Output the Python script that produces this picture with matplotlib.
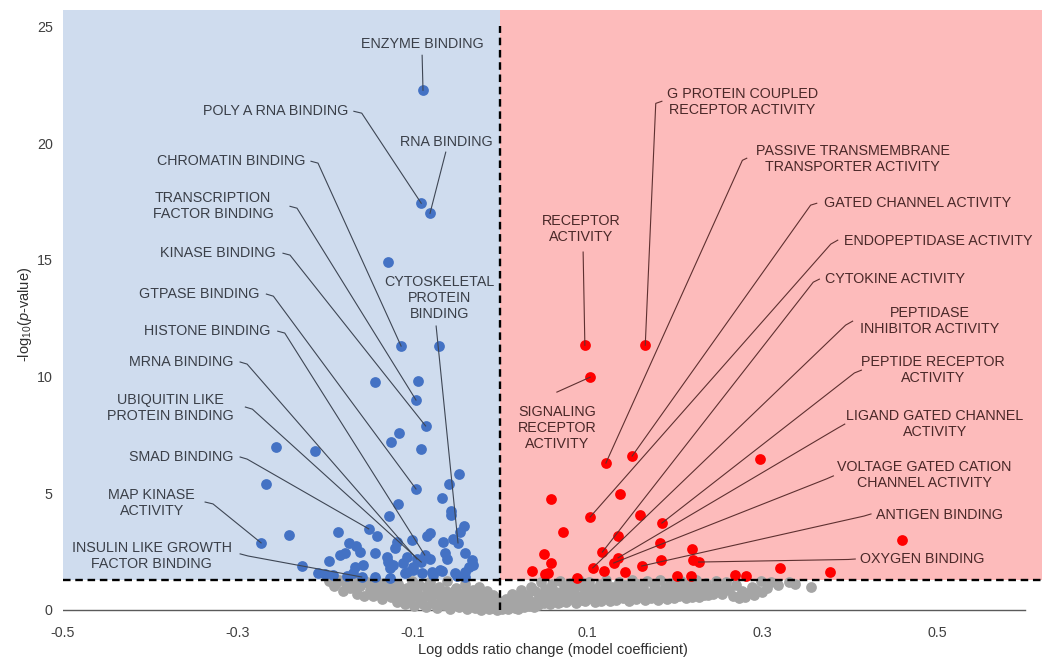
import matplotlib.pyplot as plt
from matplotlib.patches import Rectangle

plt.rcParams['font.family'] = ['Liberation Sans', 'DejaVu Sans']
plt.rcParams['mathtext.fontset'] = 'custom'
plt.rcParams['mathtext.rm'] = 'Liberation Sans'
plt.rcParams['mathtext.it'] = 'Liberation Sans:italic'
plt.rcParams['axes.unicode_minus'] = False

# GO terms enriched among depleted (negative coefficient) genes, labelled
blue_terms = ['ENZYME BINDING', 'POLY A RNA BINDING', 'RNA BINDING', 'CHROMATIN BINDING',
              'TRANSCRIPTION\nFACTOR BINDING', 'KINASE BINDING', 'GTPASE BINDING',
              'HISTONE BINDING', 'MRNA BINDING', 'UBIQUITIN LIKE\nPROTEIN BINDING',
              'SMAD BINDING', 'MAP KINASE\nACTIVITY', 'INSULIN LIKE GROWTH\nFACTOR BINDING',
              'CYTOSKELETAL\nPROTEIN\nBINDING']
blue_term_coef = [-0.088, -0.090, -0.080, -0.113, -0.096, -0.085, -0.096,
                  -0.086, -0.095, -0.090, -0.150, -0.273, -0.158, -0.048]
blue_term_logp = [22.26, 17.42, 16.99, 11.30, 8.99, 7.88, 5.18,
                  2.35, 2.18, 2.05, 3.47, 2.87, 1.41, 2.87]

# other significant negative terms
blue_coef = [-0.128, -0.070, -0.143, -0.094, -0.115, -0.125, -0.090, -0.256, -0.211, -0.267,
             -0.047, -0.058, -0.066, -0.117, -0.056, -0.056, -0.127, -0.041, -0.046, -0.083,
             -0.080, -0.141, -0.185, -0.241, -0.118, -0.101, -0.065, -0.054, -0.173, -0.165,
             -0.160, -0.143, -0.183, -0.177, -0.120, -0.129, -0.128, -0.063, -0.061, -0.080,
             -0.106, -0.195, -0.226, -0.166, -0.157, -0.122, -0.111, -0.032, -0.035, -0.040,
             -0.208, -0.200, -0.191, -0.175, -0.168, -0.143, -0.126, -0.109, -0.099, -0.089,
             -0.078, -0.066, -0.051, -0.040, -0.040, -0.031, -0.126, -0.099, -0.106, -0.069,
             -0.077, -0.049]
blue_logp = [14.90, 11.30, 9.76, 9.80, 7.58, 7.19, 6.89, 6.98, 6.81, 5.39,
             5.82, 5.39, 4.79, 4.54, 4.24, 4.07, 4.02, 3.60, 3.34, 3.17,
             3.30, 3.17, 3.34, 3.21, 2.91, 3.00, 2.91, 3.04, 2.87, 2.74,
             2.48, 2.44, 2.35, 2.44, 2.65, 2.27, 2.05, 2.44, 2.18, 2.18,
             2.27, 2.10, 1.88, 1.84, 1.93, 1.93, 2.01, 2.14, 1.84, 1.63,
             1.58, 1.54, 1.50, 1.46, 1.58, 1.41, 1.37, 1.58, 1.71, 1.58,
             1.63, 1.67, 1.58, 1.41, 2.44, 1.93, 1.80, 1.84, 1.63, 1.71,
             1.50, 1.46]

# GO terms enriched among positive coefficient genes, labelled
red_terms = ['RECEPTOR\nACTIVITY', 'G PROTEIN COUPLED\nRECEPTOR ACTIVITY',
             'SIGNALING\nRECEPTOR\nACTIVITY', 'PASSIVE TRANSMEMBRANE\nTRANSPORTER ACTIVITY',
             'GATED CHANNEL ACTIVITY', 'ENDOPEPTIDASE ACTIVITY', 'CYTOKINE ACTIVITY',
             'PEPTIDASE\nINHIBITOR ACTIVITY', 'PEPTIDE RECEPTOR\nACTIVITY',
             'LIGAND GATED CHANNEL\nACTIVITY', 'VOLTAGE GATED CATION\nCHANNEL ACTIVITY',
             'ANTIGEN BINDING', 'OXYGEN BINDING']
red_term_coef = [0.097, 0.166, 0.103, 0.121, 0.151, 0.103, 0.117,
                 0.106, 0.185, 0.135, 0.130, 0.162, 0.227]
red_term_logp = [11.34, 11.34, 9.97, 6.29, 6.59, 3.98, 2.48,
                 1.80, 3.72, 2.23, 2.01, 1.88, 2.05]

red_coef = [0.297, 0.058, 0.137, 0.160, 0.072, 0.135, 0.183, 0.219, 0.050, 0.058,
            0.184, 0.221, 0.119, 0.143, 0.037, 0.051, 0.055, 0.088, 0.202, 0.218,
            0.269, 0.281, 0.320, 0.377, 0.459]
red_logp = [6.46, 4.75, 4.97, 4.07, 3.34, 3.17, 2.87, 2.61, 2.40, 2.01,
            2.14, 2.14, 1.67, 1.63, 1.67, 1.54, 1.58, 1.37, 1.46, 1.46,
            1.50, 1.46, 1.80, 1.63, 3.00]

# non-significant terms
gray_coef = [-0.196, -0.190, -0.184, -0.180, -0.176, -0.171, -0.167, -0.163, -0.160, -0.156,
             -0.152, -0.149, -0.145, -0.142, -0.138, -0.135, -0.132, -0.128, -0.125, -0.122,
             -0.118, -0.116, -0.113, -0.109, -0.106, -0.103, -0.100, -0.098, -0.095, -0.092,
             -0.090, -0.087, -0.084, -0.082, -0.080, -0.078, -0.075, -0.072, -0.070, -0.067,
             -0.064, -0.062, -0.060, -0.057, -0.055, -0.052, -0.050, -0.047, -0.045, -0.042,
             -0.040, -0.038, -0.036, -0.034, -0.031, -0.029, -0.027, -0.024, -0.022, -0.020,
             -0.018, -0.015, -0.013, -0.011, -0.008, -0.006, -0.003, -0.001,
             -0.188, -0.173, -0.165, -0.158, -0.147, -0.140, -0.133, -0.127, -0.120, -0.114,
             -0.111, -0.104, -0.097, -0.093, -0.088, -0.085, -0.079, -0.073, -0.068, -0.065,
             -0.058, -0.053, -0.049, -0.044, -0.039, -0.033, -0.028, -0.023, -0.017, -0.012,
             -0.009, -0.004,
             0.002, 0.004, 0.007, 0.009, 0.012, 0.014, 0.017, 0.019, 0.022, 0.024,
             0.027, 0.029, 0.031, 0.033, 0.036, 0.038, 0.040, 0.043, 0.045, 0.047,
             0.050, 0.052, 0.055, 0.057, 0.059, 0.062, 0.064, 0.066, 0.069, 0.071,
             0.073, 0.076, 0.078, 0.080, 0.083, 0.085, 0.087, 0.090, 0.092, 0.095,
             0.097, 0.099, 0.102, 0.104, 0.107, 0.109, 0.111, 0.114, 0.116, 0.119,
             0.121, 0.124, 0.126, 0.128, 0.131, 0.133, 0.136, 0.138, 0.141, 0.143,
             0.146, 0.148, 0.151, 0.153, 0.156, 0.158, 0.161, 0.163, 0.166, 0.168,
             0.171, 0.173, 0.176, 0.178, 0.181, 0.183, 0.186, 0.189, 0.191, 0.194,
             0.197, 0.199, 0.202, 0.205, 0.207, 0.210, 0.213, 0.215, 0.218, 0.221,
             0.224, 0.227, 0.230, 0.233, 0.236, 0.240, 0.243, 0.247, 0.250, 0.254,
             0.258, 0.262, 0.266, 0.270, 0.273, 0.277, 0.280, 0.284, 0.288, 0.293,
             0.298, 0.305, 0.310, 0.318, 0.330, 0.337, 0.355,
             0.005, 0.011, 0.016, 0.021, 0.026, 0.032, 0.039, 0.044, 0.049, 0.054,
             0.058, 0.063, 0.068, 0.074, 0.079, 0.084, 0.089, 0.094, 0.100, 0.106,
             0.113, 0.118, 0.123, 0.130, 0.135, 0.142, 0.149, 0.155, 0.160, 0.167,
             0.175, 0.182, 0.188, 0.195, 0.203, 0.212, 0.220, 0.229, 0.238, 0.245,
             0.256, 0.275, 0.290, 0.300]
gray_logp = [1.22, 1.02, 1.28, 0.80, 1.10, 0.92, 1.25, 0.70, 1.02, 0.58,
             1.18, 0.85, 0.60, 1.28, 1.00, 0.45, 0.75, 1.20, 0.55, 0.90,
             0.35, 1.10, 0.68, 0.25, 0.95, 0.50, 1.25, 0.18, 0.75, 1.05,
             0.38, 0.60, 0.12, 0.88, 1.20, 0.30, 0.68, 0.08, 1.00, 0.45,
             0.20, 0.82, 1.25, 0.05, 0.55, 0.30, 0.95, 0.12, 0.70, 0.40,
             1.10, 0.02, 0.25, 0.60, 0.85, 0.10, 0.40, 1.00, 0.00, 0.60,
             0.20, 0.80, 0.05, 0.40, 0.65, 0.15, 0.00, 0.35,
             1.15, 1.25, 0.88, 1.15, 1.05, 0.70, 1.15, 0.85, 0.60, 0.95,
             0.42, 0.75, 1.10, 0.50, 0.25, 1.00, 0.55, 0.85, 0.25, 0.65,
             0.42, 0.80, 0.20, 0.55, 0.85, 0.35, 0.70, 0.20, 0.45, 0.25,
             0.10, 0.50,
             0.02, 0.20, 0.45, 0.05, 0.30, 0.70, 0.10, 0.50, 0.22, 0.85,
             0.12, 0.40, 0.65, 0.18, 1.00, 0.35, 0.80, 0.20, 0.55, 1.20,
             0.30, 0.90, 0.60, 0.25, 1.10, 0.40, 0.78, 0.28, 1.25, 0.55,
             0.95, 0.32, 0.70, 1.15, 0.45, 0.90, 0.30, 1.28, 0.60, 1.00,
             0.38, 0.80, 1.20, 0.50, 0.90, 0.35, 0.70, 1.10, 0.40, 0.85,
             1.28, 0.55, 0.38, 1.00, 0.70, 0.42, 1.20, 0.88, 0.50, 1.05,
             0.65, 0.40, 1.28, 0.80, 0.45, 1.10, 0.60, 0.95, 0.42, 1.22,
             0.72, 0.50, 1.05, 0.85, 0.44, 1.28, 0.62, 0.95, 0.48, 1.15,
             0.75, 0.50, 1.05, 0.60, 1.25, 0.85, 0.50, 1.10, 0.70, 0.95,
             1.28, 0.55, 0.80, 0.62, 1.15, 0.90, 0.70, 1.22, 0.95, 0.70,
             1.20, 0.85, 0.60, 1.05, 0.52, 0.80, 0.55, 0.72, 1.00, 0.85,
             1.25, 0.95, 1.20, 1.05, 1.20, 1.12, 1.00,
             0.35, 0.15, 0.40, 0.05, 0.60, 0.45, 0.12, 0.35, 0.70, 0.40,
             0.95, 0.55, 0.35, 0.60, 0.45, 1.20, 0.55, 0.42, 0.60, 0.45,
             0.55, 1.05, 0.80, 0.55, 0.75, 0.65, 1.00, 0.60, 0.80, 0.55,
             0.65, 0.80, 0.55, 0.65, 0.80, 0.65, 0.55, 1.05, 0.65, 0.95,
             0.85, 0.65, 0.62, 0.75]

x_ticks = [-0.5, -0.3, -0.1, 0.1, 0.3, 0.5]
y_ticks = [0, 5, 10, 15, 20, 25]
sig_cut = 1.3

# label placement: text anchor, alignment, leader-line start points
blue_layout = [((-0.089, 24.23), 'center', [(-0.089, 23.76)]),
               ((-0.173, 21.36), 'right', [(-0.167, 21.36), (-0.158, 21.28)]),
               ((-0.061, 20.03), 'center', [(-0.062, 19.61)]),
               ((-0.222, 19.22), 'right', [(-0.216, 19.22), (-0.208, 19.14)]),
               ((-0.328, 17.29), 'center', [(-0.240, 17.29), (-0.232, 17.21)]),
               ((-0.256, 15.28), 'right', [(-0.248, 15.28), (-0.240, 15.20)]),
               ((-0.275, 13.53), 'right', [(-0.267, 13.53), (-0.259, 13.44)]),
               ((-0.262, 11.94), 'right', [(-0.254, 11.94), (-0.246, 11.86)]),
               ((-0.305, 10.62), 'right', [(-0.297, 10.62), (-0.289, 10.53)]),
               ((-0.377, 8.65), 'center', [(-0.291, 8.69), (-0.283, 8.60)]),
               ((-0.305, 6.55), 'right', [(-0.297, 6.55), (-0.289, 6.46)]),
               ((-0.398, 4.58), 'center', [(-0.337, 4.62), (-0.328, 4.54)]),
               ((-0.398, 2.31), 'center', [(-0.297, 2.40), (-0.288, 2.31)]),
               ((-0.069, 13.36), 'center', [(-0.073, 12.16)])]
red_layout = [((0.093, 16.31), 'center', [(0.095, 15.33)]),
              ((0.277, 21.77), 'center', [(0.185, 21.79), (0.178, 21.70)]),
              ((0.065, 7.79), 'center', [(0.065, 9.33)]),
              ((0.403, 19.31), 'center', [(0.282, 19.35), (0.277, 19.26)]),
              ((0.370, 17.42), 'left', [(0.362, 17.42), (0.355, 17.34)]),
              ((0.393, 15.80), 'left', [(0.386, 15.84), (0.378, 15.67)]),
              ((0.371, 14.17), 'left', [(0.365, 14.17), (0.358, 14.04)]),
              ((0.491, 12.37), 'center', [(0.403, 12.37), (0.395, 12.20)]),
              ((0.495, 10.27), 'center', [(0.413, 10.27), (0.405, 10.15)]),
              ((0.497, 7.96), 'center', [(0.394, 7.96), (0.386, 7.79)]),
              ((0.485, 5.78), 'center', [(0.381, 5.74), (0.373, 5.61)]),
              ((0.430, 4.07), 'left', [(0.424, 4.11), (0.416, 4.02)]),
              ((0.411, 2.18), 'left', [(0.406, 2.18), (0.398, 2.16)])]

fig = plt.figure(figsize=(10.47, 6.6), dpi=100)
ax = fig.add_axes([62.5 / 1047, 1 - 619 / 660, 980 / 1047, 609 / 660])
xmin, xmax = -0.5, 0.62
ymin, ymax = -0.39, 25.7
ax.set_xlim(xmin, xmax)
ax.set_ylim(ymin, ymax)

# shaded significance quadrants
ax.add_patch(Rectangle((xmin, sig_cut), 0 - xmin, ymax - sig_cut, color='#CFDCEE', lw=0, zorder=0))
ax.add_patch(Rectangle((0, sig_cut), xmax, ymax - sig_cut, color='#FDBBBB', lw=0, zorder=0))

ms = 60
ax.scatter(gray_coef, gray_logp, s=ms, color='#A5A5A5', lw=0, zorder=2, clip_on=False)
ax.scatter(blue_coef + blue_term_coef, blue_logp + blue_term_logp, s=ms, color='#4472C4', lw=0, zorder=3)
ax.scatter(red_coef + red_term_coef, red_logp + red_term_logp, s=ms, color='#FF0000', lw=0, zorder=3)

# threshold lines and x axis
ax.plot([xmin, xmax], [sig_cut, sig_cut], color='black', lw=1.7, dashes=(3.2, 2.0), zorder=4)
ax.plot([0, 0], [0, 25], color='black', lw=1.7, dashes=(3.2, 2.0), zorder=4)
ax.plot([-0.5, 0.6], [0, 0], color='#5A5A5A', lw=1.0, zorder=1)


def add_labels(terms, xs, ys, layout, txt_color, line_color):
    for term, px, py, (pos, ha, lead) in zip(terms, xs, ys, layout):
        ax.text(pos[0], pos[1], term, ha=ha, va='center', multialignment='center',
                fontsize=10.3, color=txt_color, zorder=6, linespacing=1.15)
        lx = [p[0] for p in lead] + [px]
        ly = [p[1] for p in lead] + [py]
        ax.plot(lx, ly, color=line_color, lw=0.8, zorder=5)


add_labels(blue_terms, blue_term_coef, blue_term_logp, blue_layout, '#3A3F48', '#3E4654')
add_labels(red_terms, red_term_coef, red_term_logp, red_layout, '#4A2828', '#5E3030')

for s in ax.spines.values():
    s.set_visible(False)
ax.set_xticks(x_ticks)
ax.set_xticklabels([f'{t:.1f}' for t in x_ticks])
ax.set_yticks(y_ticks)
ax.tick_params(length=0, labelsize=10.3, labelcolor='#404040')
ax.tick_params(axis='x', pad=5)
ax.tick_params(axis='y', pad=7)

ax.set_xlabel('Log odds ratio change (model coefficient)', fontsize=10.5, color='#303030', labelpad=2)
ax.set_ylabel(r'-log$_{10}$($\mathit{p}$-value)', fontsize=10.5, color='#303030', labelpad=2)

fig.savefig('out.png', dpi=100)
